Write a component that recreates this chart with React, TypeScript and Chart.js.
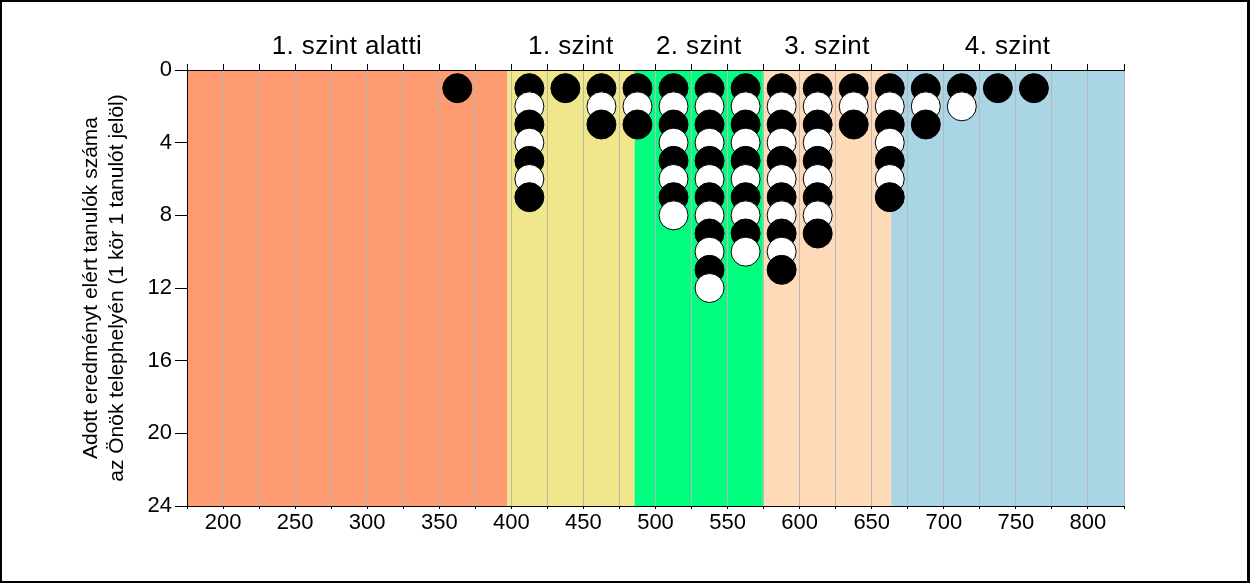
import React, { useEffect, useRef } from 'react';
import { Chart, registerables } from 'chart.js';

Chart.register(...registerables);

// Score bins (centres) and number of students per bin
const binCenters = [362.5, 412.5, 437.5, 462.5, 487.5, 512.5, 537.5, 562.5, 587.5, 612.5, 637.5, 662.5, 687.5, 712.5, 737.5, 762.5];
const binCounts = [1, 7, 1, 3, 3, 8, 12, 10, 11, 9, 3, 7, 3, 2, 1, 1];

// Proficiency levels
const levelNames = ['1. szint alatti', '1. szint', '2. szint', '3. szint', '4. szint'];
const levelBounds = [175, 397, 485.5, 574.5, 663.5, 825];
const levelColors = ['#FF9B70', '#F0E68C', '#00FF7F', '#FFDAB9', '#A9D5E5'];

// Axes
const xMin = 175;
const xMax = 825;
const yMin = 0;
const yMax = 24;
const yTitle = ['Adott eredményt elért tanulók száma', 'az Önök telephelyén (1 kör 1 tanulót jelöl)'];

const FONT = 'Arial, "Liberation Sans", sans-serif';

const bandPlugin = {
  id: 'bands',
  beforeDraw(chart: any) {
    const { ctx, chartArea, scales } = chart;
    const xs = scales.x;
    ctx.save();
    for (let i = 0; i < levelNames.length; i++) {
      const x0 = xs.getPixelForValue(levelBounds[i]);
      const x1 = xs.getPixelForValue(levelBounds[i + 1]);
      ctx.fillStyle = levelColors[i];
      ctx.fillRect(x0, chartArea.top, x1 - x0, chartArea.bottom - chartArea.top);
    }
    ctx.restore();
  },
  afterDraw(chart: any) {
    const { ctx, scales, width, height } = chart;
    const xs = scales.x;
    ctx.save();
    ctx.fillStyle = '#000';
    ctx.font = `26px ${FONT}`;
    ctx.textAlign = 'center';
    ctx.textBaseline = 'alphabetic';
    try { (ctx as any).letterSpacing = '0.4px'; } catch (e) {}
    for (let i = 0; i < levelNames.length; i++) {
      const c = (xs.getPixelForValue(levelBounds[i]) + xs.getPixelForValue(levelBounds[i + 1])) / 2;
      ctx.fillText(levelNames[i], c, 54);
    }
    try { (ctx as any).letterSpacing = '0px'; } catch (e) {}
    // outer frame
    ctx.fillStyle = '#000';
    ctx.fillRect(0, 0, width, 2);
    ctx.fillRect(0, height - 2, width, 2);
    ctx.fillRect(0, 0, 2, height);
    ctx.fillRect(width - 3, 0, 3, height);
    ctx.restore();
  },
};

export default function App() {
  const ref = useRef<HTMLCanvasElement | null>(null);

  useEffect(() => {
    if (!ref.current) return;
    const points: { x: number; y: number }[] = [];
    binCenters.forEach((x, i) => {
      for (let k = 1; k <= binCounts[i]; k++) points.push({ x, y: k });
    });

    const chart = new Chart(ref.current, {
      type: 'scatter',
      data: {
        datasets: [
          {
            data: points,
            pointRadius: 14.5,
            pointHoverRadius: 14.5,
            borderWidth: 1,
            borderColor: '#000',
            backgroundColor: (c: any) => {
              const p = c.raw as any;
              return p && p.y % 2 === 0 ? '#FFFFFF' : '#000000';
            },
          } as any,
        ],
      },
      options: {
        animation: false,
        responsive: false,
        devicePixelRatio: 1,
        layout: { padding: { left: 0, right: 126, top: 0, bottom: 0 } },
        plugins: {
          legend: { display: false },
          tooltip: { enabled: false },
        },
        scales: {
          x: {
            type: 'linear',
            position: 'bottom',
            min: xMin,
            max: xMax,
            ticks: {
              stepSize: 25,
              autoSkip: false,
              maxRotation: 0,
              color: '#000',
              padding: 1,
              font: { family: FONT, size: 22 },
              callback: (v: any) => (Number(v) % 50 === 0 ? String(v) : ''),
            },
            grid: { color: '#B8B8B8', tickColor: '#000', tickLength: 3, lineWidth: 1 },
            border: { color: '#000', width: 1 },
            afterFit: (s: any) => { s.height = 77; },
          },
          x2: {
            type: 'linear',
            position: 'top',
            min: xMin,
            max: xMax,
            ticks: {
              stepSize: 25,
              autoSkip: false,
              maxRotation: 0,
              color: 'rgba(0,0,0,0)',
              callback: () => '',
            },
            grid: { drawOnChartArea: false, tickColor: '#000', tickLength: 6 },
            border: { color: '#000', width: 1 },
            afterFit: (s: any) => { s.height = 70; },
          },
          y: {
            type: 'linear',
            position: 'left',
            reverse: true,
            min: yMin,
            max: yMax,
            ticks: {
              stepSize: 4,
              color: '#000',
              padding: 3,
              font: { family: FONT, size: 22 },
            },
            grid: { drawOnChartArea: false, tickColor: '#000', tickLength: 12 },
            border: { color: '#000', width: 1 },
            title: {
              display: true,
              text: yTitle,
              color: '#000',
              font: { family: FONT, size: 21, lineHeight: 1.2 },
              padding: { top: 79, bottom: 0 },
            },
            afterFit: (s: any) => { s.width = 187; },
          },
        },
      },
      plugins: [bandPlugin],
    });
    return () => chart.destroy();
  }, []);

  return (
    <div style={{ position: 'absolute', left: 0, top: 0, width: 1250, height: 583, background: '#fff' }}>
      <canvas ref={ref} width={1250} height={583} style={{ display: 'block', width: 1250, height: 583 }} />
    </div>
  );
}
